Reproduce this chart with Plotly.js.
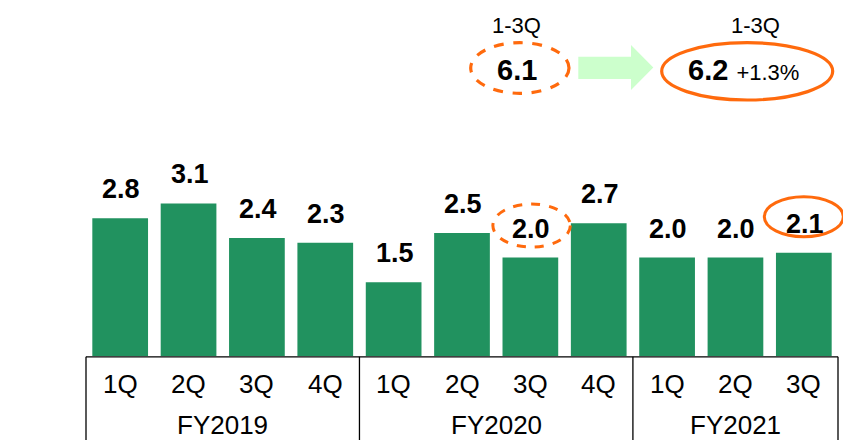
<!DOCTYPE html>
<html>
<head>
<meta charset="utf-8">
<script src="https://cdn.plot.ly/plotly-3.0.1.min.js"></script>
<style>html,body{margin:0;padding:0;background:#fff;}#chart{width:843px;height:440px;}</style>
</head>
<body>
<div id="chart"></div>
<script>
// ---- data ----
const quarters = ['1Q','2Q','3Q','4Q','1Q','2Q','3Q','4Q','1Q','2Q','3Q'];
const fiscalYears = ['FY2019','FY2020','FY2021'];
const quartersPerYear = [4, 4, 3];
const values = [2.8, 3.1, 2.4, 2.3, 1.5, 2.5, 2.0, 2.7, 2.0, 2.0, 2.1];
const periodLabel = '1-3Q';
const periodTotals = [6.1, 6.2];
const periodChange = '+1.3%';
const prevHighlight = 6;   // FY2020 3Q (dashed ring)
const currHighlight = 10;  // FY2021 3Q (solid ring)

// ---- layout geometry ----
const W = 843, H = 440;
const M = {l: 86, r: 5, t: 0, b: 84};
const PW = W - M.l - M.r, PH = H - M.t - M.b;
const pxPerUnit = 49.2;
const yMax = PH / pxPerUnit;
const n = values.length;
const FONT = 'Liberation Sans, Arial, sans-serif';
const GREEN = '#21925f';
const ORANGE = '#ff6a0d';
const px = x => (x - M.l) / PW;           // pixel -> paper x
const py = y => (M.t + PH - y) / PH;      // pixel -> paper y
const cx = i => (i + 0.5) / n;            // category index -> paper x

const xs = values.map((v, i) => i);

const trace = {
  type: 'bar', x: xs, y: values,
  marker: {color: GREEN, line: {width: 0}},
  hoverinfo: 'skip', showlegend: false
};

const annotations = [];
// value labels
values.forEach((v, i) => {
  annotations.push({
    x: i, y: v, xref: 'x', yref: 'y', text: '<b>' + v.toFixed(1) + '</b>',
    showarrow: false, yanchor: 'bottom', xanchor: 'center', yshift: 12, xshift: 1,
    font: {family: FONT, size: 27, color: '#000'}
  });
});
// quarter labels
quarters.forEach((q, i) => {
  annotations.push({
    x: i, y: py(384), xref: 'x', yref: 'paper', text: q, showarrow: false,
    xanchor: 'center', yanchor: 'middle', font: {family: FONT, size: 26, color: '#000'}
  });
});
// fiscal year labels
let start = 0;
const bounds = [-0.5];
fiscalYears.forEach((fy, g) => {
  const cnt = quartersPerYear[g];
  annotations.push({
    x: start + (cnt - 1) / 2, y: py(424.5), xref: 'x', yref: 'paper', text: fy,
    showarrow: false, xanchor: 'center', yanchor: 'middle', font: {family: FONT, size: 26, color: '#000'}
  });
  start += cnt;
  bounds.push(start - 0.5);
});
// period summary at top
annotations.push({x: px(516), y: py(25.7), xref: 'paper', yref: 'paper', text: periodLabel,
  showarrow: false, xanchor: 'center', yanchor: 'middle', font: {family: FONT, size: 22, color: '#000'}});
annotations.push({x: px(755), y: py(25.7), xref: 'paper', yref: 'paper', text: periodLabel,
  showarrow: false, xanchor: 'center', yanchor: 'middle', font: {family: FONT, size: 22, color: '#000'}});
annotations.push({x: px(517), y: py(69.7), xref: 'paper', yref: 'paper',
  text: '<b>' + periodTotals[0].toFixed(1) + '</b>',
  showarrow: false, xanchor: 'center', yanchor: 'middle', font: {family: FONT, size: 29, color: '#000'}});
annotations.push({x: px(743.5), y: py(70), xref: 'paper', yref: 'paper',
  text: '<b>' + periodTotals[1].toFixed(1) + '</b> <span style="font-size:22px">' + periodChange + '</span>',
  showarrow: false, xanchor: 'center', yanchor: 'middle', font: {family: FONT, size: 29, color: '#000'}});

const shapes = [];
// table frame
const toPaper = b => (b + 0.5) / n;
shapes.push({type: 'line', xref: 'paper', yref: 'paper', x0: toPaper(bounds[0]), x1: toPaper(bounds[bounds.length - 1]),
  y0: py(356.8), y1: py(356.8), line: {color: '#000', width: 1.3}});
bounds.forEach(b => {
  shapes.push({type: 'line', xref: 'paper', yref: 'paper', x0: toPaper(b), x1: toPaper(b),
    y0: py(356.8), y1: py(442), line: {color: '#000', width: 1.3}});
});
// rings around highlighted bar labels
shapes.push({type: 'circle', xref: 'paper', yref: 'y', xsizemode: 'pixel', ysizemode: 'pixel',
  xanchor: cx(prevHighlight), yanchor: values[prevHighlight], x0: -37.5, x1: 40, y0: 10.5, y1: 53.5,
  line: {color: ORANGE, width: 3, dash: 'dash'}});
shapes.push({type: 'circle', xref: 'paper', yref: 'y', xsizemode: 'pixel', ysizemode: 'pixel',
  xanchor: cx(currHighlight), yanchor: values[currHighlight], x0: -39.5, x1: 39.5, y0: 16, y1: 56,
  line: {color: ORANGE, width: 3}});
// top rings
shapes.push({type: 'circle', xref: 'paper', yref: 'paper', x0: px(470.7), x1: px(569), y0: py(93.3), y1: py(42.7),
  line: {color: ORANGE, width: 3.2, dash: 'dash'}});
shapes.push({type: 'circle', xref: 'paper', yref: 'paper', x0: px(661.7), x1: px(832.7), y0: py(100), y1: py(42.7),
  line: {color: ORANGE, width: 3.2}});
// arrow
const arrowPts = [[578.3,56.7],[631,56.7],[631,45],[653.3,67.5],[631,90],[631,79],[578.3,79]];
const arrowPath = 'M ' + arrowPts.map(p => px(p[0]) + ',' + py(p[1])).join(' L ') + ' Z';
shapes.push({type: 'path', xref: 'paper', yref: 'paper', path: arrowPath,
  fillcolor: '#ccffcc', line: {width: 0}});

const layout = {
  width: W, height: H, margin: M,
  paper_bgcolor: '#fff', plot_bgcolor: '#fff',
  bargap: 0.185,
  xaxis: {range: [-0.5, n - 0.5], showticklabels: false, showgrid: false, zeroline: false, showline: false, ticks: '', fixedrange: true},
  yaxis: {range: [0, yMax], showticklabels: false, showgrid: false, zeroline: false, showline: false, ticks: '', fixedrange: true},
  annotations: annotations, shapes: shapes,
  font: {family: FONT}
};

Plotly.newPlot('chart', [trace], layout, {staticPlot: true, displayModeBar: false});
</script>
</body>
</html>
